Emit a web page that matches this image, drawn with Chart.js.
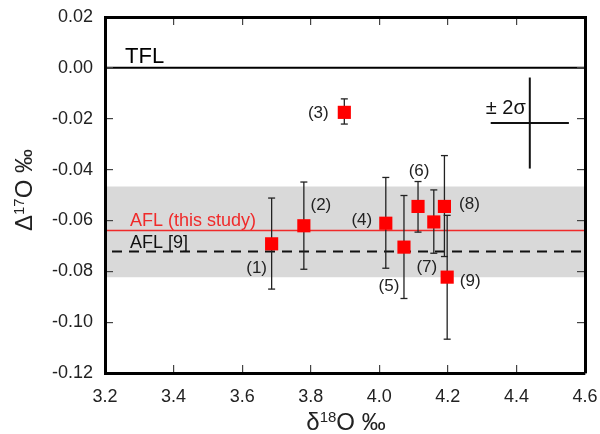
<!DOCTYPE html>
<html><head><meta charset="utf-8">
<script src="https://cdn.jsdelivr.net/npm/chart.js@4/dist/chart.umd.min.js"></script>
<style>html,body{margin:0;padding:0;background:#fff}#wrap{width:600px;height:434px}</style>
</head><body><div id="wrap"><canvas id="c" width="600" height="434"></canvas></div>
<script>
// ---- data ----
const sampleIds = ['(1)','(2)','(3)','(4)','(5)','(6)','(7)','(8)','(9)'];
const d18O      = [3.686, 3.780, 3.898, 4.019, 4.072, 4.113, 4.159, 4.190, 4.198];
const D17O      = [-0.0692, -0.0621, -0.0175, -0.0611, -0.0705, -0.0545, -0.0606, -0.0545, -0.0823];
const errLow    = [-0.0870, -0.0792, -0.0221, -0.0788, -0.0907, -0.0646, -0.0729, -0.0742, -0.1067];
const errHigh   = [-0.0512, -0.0449, -0.0122, -0.0431, -0.0502, -0.0447, -0.0480, -0.0345, -0.0580];
const tflValue = 0.0;
const aflThisStudy = -0.0640;
const aflRef9 = -0.0722;
const aflBandLow = -0.0823;
const aflBandHigh = -0.0467;
const sigmaCenter = [4.439, -0.0217];
const sigmaHalf = [0.114, 0.0179];
const xRange = [3.2, 4.6];
const yRange = [-0.12, 0.02];
const xTickValues = [3.2, 3.4, 3.6, 3.8, 4.0, 4.2, 4.4, 4.6];
const xTickLabels = ['3.2','3.4','3.6','3.8','4.0','4.2','4.4','4.6'];
const yTickValues = [0.02, 0.00, -0.02, -0.04, -0.06, -0.08, -0.10, -0.12];
const yTickLabels = ['0.02','0.00','-0.02','-0.04','-0.06','-0.08','-0.10','-0.12'];

// label placement (pixel offsets from each marker)
const labelOffsets = [[-15,24],[17,-20],[-26,1],[-24,-3],[-15,39],[1,-35],[-7,45],[25,-2],[23,4]];

const FONT = '"Liberation Sans", Arial, sans-serif';
const hline = (y) => [{x: xRange[0], y: y}, {x: xRange[1], y: y}];

const datasets = [];
datasets.push({type:'line', data: hline(aflBandLow), borderWidth:0, borderColor:'rgba(0,0,0,0)', pointRadius:0, fill:false, order:10});
datasets.push({type:'line', data: hline(aflBandHigh), borderWidth:0, borderColor:'rgba(0,0,0,0)', pointRadius:0, fill:'-1', backgroundColor:'#d9d9d9', order:9});
datasets.push({type:'line', data: hline(tflValue), borderColor:'#000', borderWidth:2, pointRadius:0, order:5});
datasets.push({type:'line', data: hline(aflThisStudy), borderColor:'#f02a2a', borderWidth:1.5, pointRadius:0, order:5});
datasets.push({type:'line', data: hline(aflRef9), borderColor:'#111', borderWidth:2, borderDash:[10,7], borderDashOffset:10, pointRadius:0, order:5});
for (let i = 0; i < d18O.length; i++) {
  datasets.push({type:'line', data:[{x:d18O[i], y:errLow[i]}, {x:d18O[i], y:errHigh[i]}],
    borderColor:'#222', borderWidth:1.3, pointStyle:'line', pointRadius:3.5,
    pointBorderColor:'#222', pointBorderWidth:1.3, order:2});
}
datasets.push({type:'line', data:[{x:sigmaCenter[0], y:sigmaCenter[1]-sigmaHalf[1]}, {x:sigmaCenter[0], y:sigmaCenter[1]+sigmaHalf[1]}],
  borderColor:'#111', borderWidth:2, pointRadius:0, order:3});
datasets.push({type:'line', data:[{x:sigmaCenter[0]-sigmaHalf[0], y:sigmaCenter[1]}, {x:sigmaCenter[0]+sigmaHalf[0], y:sigmaCenter[1]}],
  borderColor:'#111', borderWidth:2, pointRadius:0, order:3});
datasets.push({type:'scatter', data: d18O.map((x,i)=>({x:x, y:D17O[i]})),
  pointStyle:'rect', pointRadius:9.3, backgroundColor:'#ff0000', borderColor:'#ff0000', borderWidth:0, order:0});

function drawSup(ctx, parts, x, y, align) {
  let total = 0;
  parts.forEach(p => { ctx.font = p[1] + 'px ' + FONT; p.w = ctx.measureText(p[0]).width; total += p.w; });
  let cx = align === 'center' ? x - total/2 : x;
  parts.forEach(p => { ctx.font = p[1] + 'px ' + FONT; ctx.fillText(p[0], cx, y - p[2]); cx += p.w; });
}

const texts = {
  id:'texts',
  afterDraw(chart) {
    const ctx = chart.ctx, a = chart.chartArea, xs = chart.scales.x, ys = chart.scales.y;
    ctx.save();
    ctx.fillStyle = '#222'; ctx.font = '17px ' + FONT;
    ctx.textAlign = 'center'; ctx.textBaseline = 'middle';
    sampleIds.forEach((s, i) => {
      const px = xs.getPixelForValue(d18O[i]) + labelOffsets[i][0];
      const py = ys.getPixelForValue(D17O[i]) + labelOffsets[i][1];
      ctx.fillText(s, px, py);
    });
    ctx.textAlign = 'left'; ctx.textBaseline = 'alphabetic';
    ctx.fillStyle = '#000'; ctx.font = '22px ' + FONT;
    ctx.fillText('TFL', a.left + 20, ys.getPixelForValue(tflValue) - 5);
    ctx.fillStyle = '#f02a2a'; ctx.font = '18px ' + FONT;
    ctx.fillText('AFL (this study)', a.left + 25, ys.getPixelForValue(aflThisStudy) - 5);
    ctx.fillStyle = '#111'; ctx.font = '18px ' + FONT;
    ctx.fillText('AFL [9]', a.left + 25, ys.getPixelForValue(aflRef9) - 3);
    ctx.fillStyle = '#111'; ctx.font = '20px ' + FONT; ctx.textAlign = 'right';
    ctx.fillText('\u00b1 2\u03c3', xs.getPixelForValue(sigmaCenter[0]) - 4, ys.getPixelForValue(sigmaCenter[1]) - 9);

    ctx.fillStyle = '#222'; ctx.textAlign = 'left'; ctx.textBaseline = 'alphabetic';
    drawSup(ctx, [['\u03b4',24,0],['18',15,8.5],['O \u2030',24,0]], (a.left + a.right)/2 + 1, 430, 'center');
    ctx.translate(32, 190);
    ctx.rotate(-Math.PI/2);
    drawSup(ctx, [['\u0394',24,0],['17',15,8.5],['O \u2030',24,0]], 0, 0, 'center');
    ctx.restore();
  }
};

const frameGrid = {display:true, drawOnChartArea:false, drawTicks:true, tickLength:-8,
  color:'#444', lineWidth:1.2, tickColor:'#444', tickWidth:1.2, z:1};
const frameBorder = {display:true, width:3, color:'#000', z:2};

new Chart(document.getElementById('c'), {
  type:'scatter',
  data:{datasets: datasets},
  options:{
    responsive:false, animation:false, events:[], devicePixelRatio:1,
    layout:{padding:{top:17, right:15, left:0, bottom:0}},
    plugins:{legend:{display:false}, tooltip:{enabled:false}},
    scales:{
      x:{type:'linear', position:'bottom', min:xRange[0], max:xRange[1],
        grid:frameGrid, border:frameBorder,
        afterBuildTicks: s => { s.ticks = xTickValues.map(v => ({value:v})); },
        afterFit: s => { s.height = 61; s.paddingLeft = 0; s.paddingRight = 0; },
        ticks:{padding:21, color:'#222', font:{family:FONT, size:18},
          callback:(v, i) => xTickLabels[i]}},
      x2:{type:'linear', position:'top', min:xRange[0], max:xRange[1],
        grid:frameGrid, border:frameBorder,
        afterBuildTicks: s => { s.ticks = xTickValues.map(v => ({value:v})); },
        afterFit: s => { s.height = 0; s.paddingLeft = 0; s.paddingRight = 0; },
        ticks:{display:false}},
      y:{type:'linear', position:'left', min:yRange[0], max:yRange[1],
        grid:frameGrid, border:frameBorder,
        afterBuildTicks: s => { s.ticks = yTickValues.slice().reverse().map(v => ({value:v})); },
        afterFit: s => { s.width = 105; s.paddingTop = 0; s.paddingBottom = 0; },
        ticks:{padding:20, color:'#222', font:{family:FONT, size:18},
          callback:(v, i) => yTickLabels[yTickLabels.length - 1 - i]}},
      y2:{type:'linear', position:'right', min:yRange[0], max:yRange[1],
        grid:frameGrid, border:frameBorder,
        afterBuildTicks: s => { s.ticks = yTickValues.slice().reverse().map(v => ({value:v})); },
        afterFit: s => { s.width = 0; s.paddingTop = 0; s.paddingBottom = 0; },
        ticks:{display:false}}
    }
  },
  plugins:[texts]
});
</script></body></html>
